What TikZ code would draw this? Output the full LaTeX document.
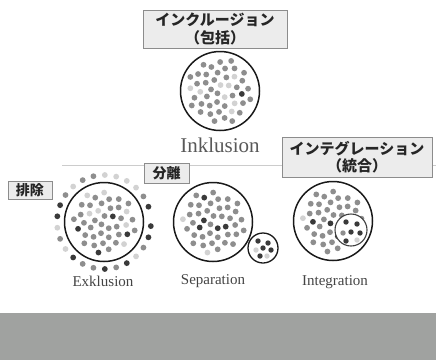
\documentclass[tikz,border=0pt]{standalone}
\usepackage{fontspec}
\setmainfont{Liberation Serif}
\newfontfamily\jpfont{Noto Sans CJK JP}
\usetikzlibrary{calc}

\definecolor{boxgray}{HTML}{ECECEC}
\definecolor{boxline}{HTML}{8C8C8C}
\definecolor{dotdark}{HTML}{3A3A3A}
\definecolor{dotmid}{HTML}{8E8E8E}
\definecolor{dotlight}{HTML}{D2D2D2}
\definecolor{bandgray}{HTML}{A0A2A0}
\definecolor{labelgray}{HTML}{444444}

% dots inside a circle: center, radius, count, seed
\newcommand{\scatterdots}[4]{%
  \pgfmathsetseed{#4}%
  \foreach \i in {1,...,#3}{%
    \pgfmathsetmacro\rr{#2*sqrt((\i-0.5)/#3)}%
    \pgfmathsetmacro\aa{\i*137.508}%
    \pgfmathsetmacro\sh{rnd}%
    \ifdim\sh pt<0.10pt \def\dc{dotdark}\else\ifdim\sh pt<0.20pt \def\dc{dotlight}\else\def\dc{dotmid}\fi\fi
    \fill[\dc] ($(#1)+(\aa:\rr)$) circle (2.9);
  }%
}

\begin{document}
\begin{tikzpicture}[x=1pt, y=-1pt]
    % Define styles
    \tikzstyle{title} = [draw=boxline, fill=boxgray, align=center, inner sep=1pt, font=\jpfont\bfseries\fontsize{15}{17.5}\selectfont, text=black!85]
    \tikzstyle{tag} = [draw=boxline, fill=boxgray, inner sep=1pt, font=\jpfont\bfseries\fontsize{14}{15}\selectfont, text=black!85]
    \tikzstyle{group} = [draw=black!90, line width=1.5pt, circle, inner sep=0pt]
    \tikzstyle{caption} = [text=labelgray, font=\fontsize{15}{17}\selectfont]

    \useasboundingbox (0,0) rectangle (436,360);
    \fill[bandgray] (0,313) rectangle (436,360);

    % Divider
    \coordinate (lineL) at (62,165);
    \coordinate (lineR) at (436,165);
    \draw[black!20, line width=0.8pt] (lineL) -- (lineR);

    % Nodes
    \node[title, minimum width=144, minimum height=38] (incltitle) at (215,29) {インクルージョン\\（包括）};
    \node[title, minimum width=150, minimum height=40] (integtitle) at (357,157) {インテグレーション\\（統合）};
    \node[tag, minimum width=44, minimum height=18] (excltag) at (30,190) {排除};
    \node[tag, minimum width=45, minimum height=20] (septag) at (166.5,173) {分離};

    % Inclusion
    \node[group, minimum size=79] (incl) at (220,91) {};
    \scatterdots{incl.center}{33}{46}{7}
    \node[caption, text=black!65, font=\fontsize{21}{23}\selectfont] (incllabel) at (220,145) {Inklusion};

    % Exclusion
    \node[group, minimum size=79] (excl) at (104,222) {};
    \scatterdots{excl.center}{32}{42}{11}
    \pgfmathsetseed{23}
    \foreach \a in {0,14,...,346}{
      \pgfmathsetmacro\sh{rnd}
      \ifdim\sh pt<0.45pt \def\dc{dotdark}\else\ifdim\sh pt<0.72pt \def\dc{dotlight}\else\def\dc{dotmid}\fi\fi
      \fill[\dc] ($(excl.center)+(\a+5:47)$) circle (2.9);
    }
    \node[caption] (excllabel) at (103,281) {Exklusion};

    % Separation
    \node[group, minimum size=79] (sep) at (213,222) {};
    \scatterdots{sep.center}{32}{42}{5}
    \node[group, line width=1.3pt, minimum size=30] (sepsmall) at (263,248) {};
    \foreach \p/\c in {{-5,-7}/dotdark, {5,-5}/dotdark, {0,0}/dotdark, {8,2}/dotdark, {-7,2}/dotlight, {-3,8}/dotdark, {4,8}/dotlight}{
      \fill[\c] ($(sepsmall.center)+(\p)$) circle (2.7);
    }
    \node[caption] (seplabel) at (213,281) {Separation};

    % Integration
    \node[group, minimum size=79] (integ) at (333,221) {};
    \scatterdots{integ.center}{32}{42}{3}
    \node[group, draw=black!75, line width=1.1pt, fill=white, minimum size=32] (integsmall) at (351,230) {};
    \foreach \p/\c in {{-5,-8}/dotdark, {6,-6}/dotdark, {0,2}/dotdark, {9,3}/dotdark, {-8,3}/dotmid, {-5,11}/dotdark, {6,10}/dotlight}{
      \fill[\c] ($(integsmall.center)+(\p)$) circle (2.7);
    }
    \node[caption] (integlabel) at (335,282) {Integration};
\end{tikzpicture}
\end{document}
